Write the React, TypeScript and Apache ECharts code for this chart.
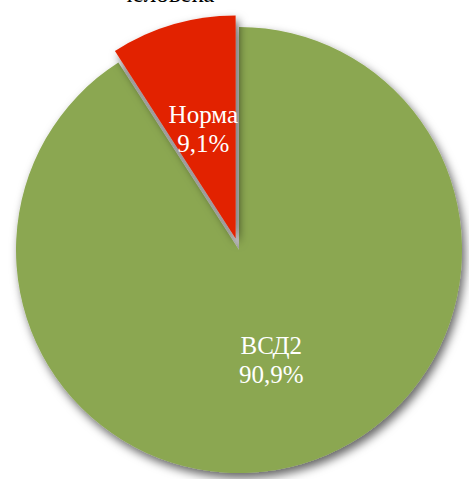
import React, { useEffect, useRef } from "react";
import * as echarts from "echarts";

const categories = ["ВСД2", "Норма"];
const values = [90.9, 9.1];
const colors = ["#8BA751", "#E22300"];
const titleText = "человека";

const serif = "serif";

export default function App() {
  const ref = useRef<HTMLDivElement>(null);
  useEffect(() => {
    if (!ref.current) return;
    const chart = echarts.init(ref.current, null, { renderer: "svg" });
    chart.setOption({
      animation: false,
      textStyle: { fontFamily: serif },
      graphic: [
        {
          type: "text",
          left: 120,
          top: -19,
          style: {
            text: titleText,
            font: "25px serif",
            fill: "#000",
          },
        },
      ],
      series: [
        {
          type: "pie",
          center: [239, 250],
          radius: ["0%", 223],
          startAngle: 90,
          clockwise: true,
          selectedMode: "single",
          selectedOffset: 12,
          label: {
            show: true,
            position: "inside",
            formatter: (p: any) =>
              p.name + "\n" + String(p.value.toFixed(1)).replace(".", ",") + "%",
            color: "#fff",
            fontFamily: serif,
            fontSize: 25,
            lineHeight: 29,
          },
          labelLine: { show: false },
          emphasis: { disabled: true },
          itemStyle: {
            shadowBlur: 10,
            shadowOffsetX: 3,
            shadowOffsetY: 5,
            shadowColor: "rgba(0,0,0,0.6)",
          },
          data: categories.map((c, i) => ({
            name: c,
            value: values[i],
            selected: i === 1,
            itemStyle: { color: colors[i] },
          })),
        },
      ],
    });
    return () => chart.dispose();
  }, []);
  return (
    <div
      ref={ref}
      style={{ position: "fixed", left: 0, top: 0, width: 469, height: 479, background: "#fff" }}
    />
  );
}
